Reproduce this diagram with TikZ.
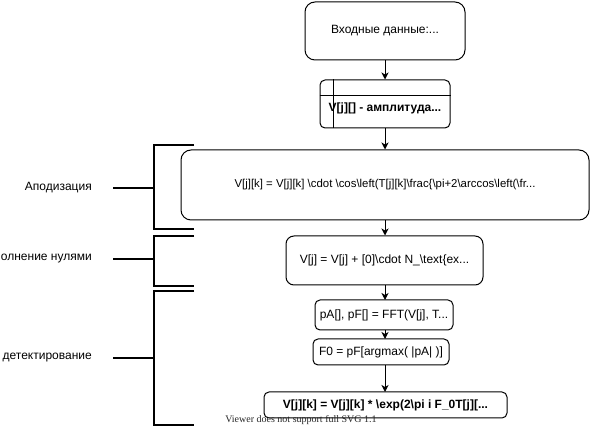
\documentclass[tikz,border=0pt]{standalone}
\usepackage{fontspec}
\setmainfont{Liberation Sans}
\newfontfamily\notefont{Liberation Serif}
\usetikzlibrary{arrows.meta}
\newcommand{\bs}{\textbackslash}
\begin{document}
\begin{tikzpicture}[x=1pt,y=-1pt,
  every node/.style={font=\fontsize{12}{14}\selectfont, inner sep=0pt},
  stepbox/.style={draw=black, line width=1pt, rounded corners=#1, rectangle},
  stepbox/.default=5pt,
  flow/.style={draw=black, line width=1pt, -{Stealth[length=7pt,width=7pt,inset=2pt]}},
  brace/.style={draw=black, line width=2.4pt},
  tick/.style={draw=black, line width=2.4pt},
  sidelabel/.style={anchor=east}
]
\useasboundingbox (0,0) rectangle (603,427);

% process boxes
\node[stepbox=10pt, minimum width=160pt, minimum height=58pt] (input) at (385,31) {Входные данные:...};
\node[stepbox, minimum width=130pt, minimum height=48pt] (store) at (385,104) {};
\draw[line width=1pt] (store.north west) ++(14,0) coordinate (sv1) -- (sv1 |- store.south);
\draw[line width=1pt] (store.north west) ++(0,16) coordinate (sh1) -- (sh1 -| store.east);
\node[font=\fontsize{12}{14}\selectfont\bfseries] (storetext) at (385,108) {V[j][] - амплитуда...};

\node[stepbox=10pt, minimum width=408pt, minimum height=70pt, font=\fontsize{11.4}{14}\selectfont] (apod) at (385,185)
  {V[j][k] = V[j][k] \bs cdot \bs cos\bs left(T[j][k]\bs frac\{\bs pi+2\bs arccos\bs left(\bs fr...};
\node[stepbox=8pt, minimum width=197pt, minimum height=49pt] (pad) at (384.5,260.5)
  {V[j] = V[j] + [0]\bs cdot N\_\bs text\{ex...};
\node[stepbox, minimum width=138pt, minimum height=30pt] (fft) at (384,315) {pA[], pF[] = FFT(V[j], T...};
\node[stepbox, minimum width=136pt, minimum height=26pt] (peak) at (381,352) {F0 = pF[argmax( |pA| )]};
\node[stepbox, minimum width=243pt, minimum height=26pt, font=\fontsize{12}{14}\selectfont\bfseries] (demod) at (385.5,405)
  {V[j][k] = V[j][k] * \bs exp(2\bs pi i F\_0T[j][...};

% connectors
\draw[flow] (input.south) -- (input.south |- store.north);
\draw[flow] (store.south) -- (store.south |- apod.north);
\draw[flow] (apod.south) -- (apod.south |- pad.north);
\draw[flow] (385,285) -- (385,300);
\draw[flow] (385,330) -- (385,339);
\draw[flow] (385,365) -- (385,392);

% stage brackets
\coordinate (a1) at (194,145); \coordinate (a2) at (194,229); \coordinate (am) at (154,188);
\draw[brace] (a1) -- (154,145) -- (154,229) -- (a2);
\node[sidelabel] (lapod) at (92,188) {Аподизация};
\draw[tick] (113,188) -- (am);

\coordinate (b1) at (194,236); \coordinate (b2) at (194,286); \coordinate (bm) at (154,259);
\draw[brace] (b1) -- (154,236) -- (154,286) -- (b2);
\node[sidelabel] (lpad) at (92,259) {олнение нулями};
\draw[tick] (113,259) -- (bm);

\coordinate (c1) at (194,291); \coordinate (c2) at (194,425); \coordinate (cm) at (154,358);
\draw[brace] (c1) -- (154,291) -- (154,425) -- (c2);
\node[sidelabel] (ldet) at (92,358) {детектирование};
\draw[tick] (113,358) -- (cm);

% renderer note
\node[font=\notefont\fontsize{10}{12}\selectfont, text=black!85] (note) at (301,420) {Viewer does not support full SVG 1.1};
\end{tikzpicture}
\end{document}
